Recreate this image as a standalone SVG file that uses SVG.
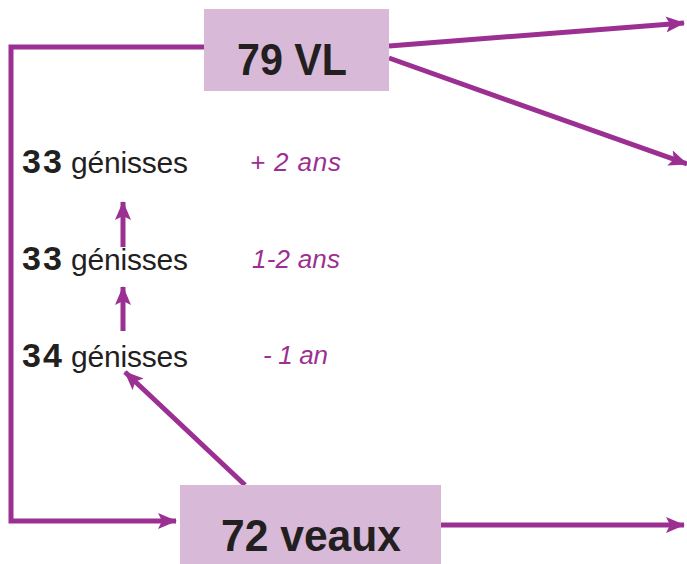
<svg xmlns="http://www.w3.org/2000/svg" width="687" height="564" viewBox="0 0 687 564">
<defs>
<marker id="ah" markerUnits="userSpaceOnUse" markerWidth="20" markerHeight="16" refX="18" refY="8" orient="auto">
<path d="M0,0 L19,8 L0,16 L4,8 Z" fill="#9b2f92"/>
</marker>
<style>
.box{fill:#d8b9d8}
.big{font-family:"Liberation Sans",Arial,sans-serif;font-weight:bold;font-size:44px;fill:#231f20}
.num{font-family:"Liberation Sans",Arial,sans-serif;font-weight:bold;font-size:34px;fill:#231f20}
.lbl{font-family:"Liberation Sans",Arial,sans-serif;font-size:30px;fill:#231f20}
.age{font-family:"Liberation Sans",Arial,sans-serif;font-style:italic;font-size:26px;fill:#9b2f92}
.c{fill:none;stroke:#9b2f92;stroke-width:5}
.ca{fill:none;stroke:#9b2f92;stroke-width:5;marker-end:url(#ah)}
</style>
</defs>
<g id="connectors">
<path class="ca" d="M204,47 L11,47 L11,521 L176,521"/>
<path class="ca" d="M389,46 L684,23"/>
<path class="ca" d="M389,58 L687,164"/>
<path class="ca" d="M441,525 L684,525"/>
<path class="ca" d="M245,485 L125,372"/>
<path class="ca" d="M123,247 L123,202"/>
<path class="ca" d="M123,331 L123,287"/>
</g>
<g id="node-vl">
<rect class="box" x="204" y="9" width="185" height="82"/>
<text class="big" x="237" y="75" textLength="110" lengthAdjust="spacingAndGlyphs">79 VL</text>
</g>
<g id="node-veaux">
<rect class="box" x="180" y="485" width="261" height="79"/>
<text class="big" x="221" y="551" textLength="180" lengthAdjust="spacingAndGlyphs">72 veaux</text>
</g>
<g id="node-g2">
<text x="22" y="173"><tspan class="num" textLength="40">33</tspan><tspan class="lbl" x="71" textLength="117">génisses</tspan></text>
<text class="age" x="250" y="171" textLength="91">+ 2 ans</text>
</g>
<g id="node-g1">
<text x="22" y="270"><tspan class="num" textLength="40">33</tspan><tspan class="lbl" x="71" textLength="117">génisses</tspan></text>
<text class="age" x="252" y="268" textLength="88">1-2 ans</text>
</g>
<g id="node-g0">
<text x="22" y="367"><tspan class="num" textLength="40">34</tspan><tspan class="lbl" x="71" textLength="117">génisses</tspan></text>
<text class="age" x="263" y="364" textLength="65">- 1 an</text>
</g>
</svg>
